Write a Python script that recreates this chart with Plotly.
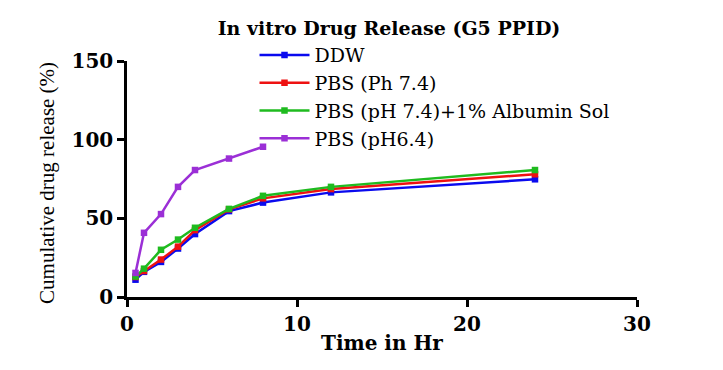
import plotly.graph_objects as go

time_hr = [0.5, 1, 2, 3, 4, 6, 8, 12, 24]
ddw = [11, 16, 22.3, 30.8, 40, 54.6, 60, 66.5, 74.8]
pbs_74 = [12.7, 16.5, 23.8, 32, 42.5, 55.7, 62.7, 68.6, 78]
pbs_alb = [13, 18, 30, 36.5, 44, 56, 64.3, 70, 80.7]
time_64 = [0.5, 1, 2, 3, 4, 6, 8]
pbs_64 = [15.3, 40.8, 52.7, 70, 80.7, 88, 95.5]

names = ["DDW", "PBS (Ph 7.4)", "PBS (pH 7.4)+1% Albumin Sol", "PBS (pH6.4)"]
colors = ["#0a0aee", "#ee1111", "#1fbb1f", "#9b2fd6"]
xs = [time_hr, time_hr, time_hr, time_64]
ys = [ddw, pbs_74, pbs_alb, pbs_64]

fig = go.Figure()
for i, (n, c, x, y) in enumerate(zip(names, colors, xs, ys)):
    fig.add_trace(go.Scatter(
        x=x, y=y, name=n, mode="lines+markers", legendgroup=str(i),
        line=dict(color=c, width=2.5),
        marker=dict(symbol="square", size=6.5, color=c),
    ))

serif_b = "DejaVu Serif"
fig.update_layout(
    width=723, height=370,
    margin=dict(l=118.5, r=93.7, t=53, b=81.3),
    plot_bgcolor="white", paper_bgcolor="white",
    title=dict(text="<b>In vitro Drug Release (G5 PPID)</b>", x=0.527, xanchor="center",
               y=0.945, yanchor="middle", yref="container",
               font=dict(family=serif_b, size=19, color="black")),
    legend=dict(x=0.25, y=1.105, xanchor="left", yanchor="top",
                font=dict(family="DejaVu Serif", size=19, color="black"),
                itemwidth=50,
                tracegroupgap=0, traceorder="grouped", bgcolor="rgba(0,0,0,0)"),
    xaxis=dict(range=[0, 30], tickvals=[0, 10, 20, 30], showgrid=False, zeroline=False,
               showline=True, linecolor="black", linewidth=2.5, ticks="outside",
               ticklen=7, tickwidth=2.5, tickcolor="black",
               tickfont=dict(family=serif_b, size=20, color="black", weight="bold")),
    yaxis=dict(range=[0, 150], tickvals=[0, 50, 100, 150], showgrid=False, zeroline=False,
               showline=True, linecolor="black", linewidth=2.5, ticks="outside",
               ticklen=7, tickwidth=2.5, tickcolor="black",
               tickfont=dict(family=serif_b, size=20, color="black", weight="bold")),
    annotations=[
        dict(text="Cumulative drug release (%)", textangle=-90, x=-0.1556, y=0.482,
             xref="paper", yref="paper", xanchor="center", yanchor="middle", showarrow=False,
             font=dict(family="Liberation Serif", size=21, color="black")),
        dict(text="<b>Time in Hr</b>", x=0.5, y=-0.197, xref="paper", yref="paper",
             xanchor="center", yanchor="middle", showarrow=False,
             font=dict(family=serif_b, size=20, color="black")),
    ],
)
fig.write_html("out.html")
